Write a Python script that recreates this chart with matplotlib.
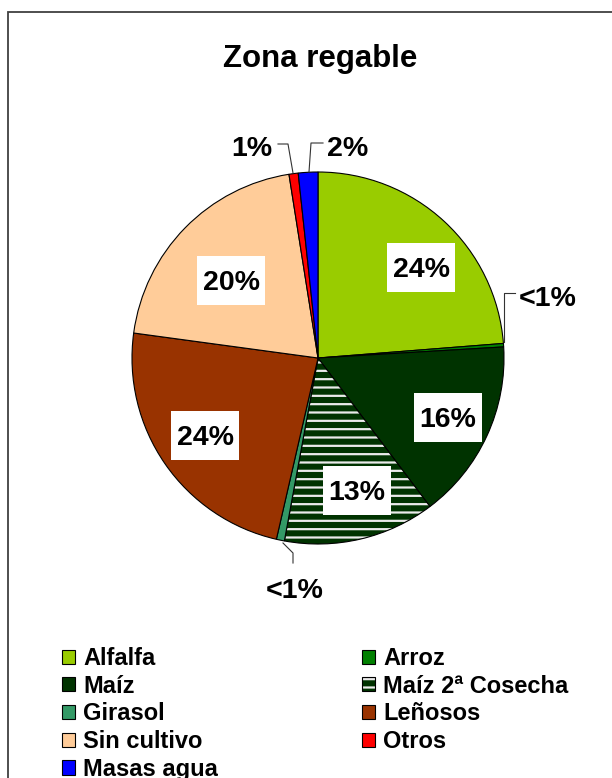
import matplotlib
matplotlib.use('Agg')
import matplotlib.pyplot as plt
from matplotlib.patches import Rectangle

# data
categories = ['Alfalfa', 'Arroz', 'Maíz', 'Maíz 2ª Cosecha', 'Girasol',
              'Leñosos', 'Sin cultivo', 'Otros', 'Masas agua']
shares = [23.8, 0.3, 15.7, 13.2, 0.7, 23.6, 20.4, 0.8, 1.7]
pct_labels = ['24%', '<1%', '16%', '13%', '<1%', '24%', '20%', '1%', '2%']
colors = ['#99CC00', '#008000', '#003300', '#003300', '#339966',
          '#993300', '#FFCC99', '#FF0000', '#0000FF']

W, H = 612, 778
plt.rcParams['font.family'] = ['Liberation Sans', 'DejaVu Sans']
plt.rcParams['hatch.linewidth'] = 1.6

fig = plt.figure(figsize=(W / 100, H / 100), dpi=100)
ax = fig.add_axes([0, 0, 1, 1])

def px(x, y):
    # picture pixels -> data coords (y up)
    return x, H - y

cx, cy = px(318, 358)
wedges, _ = ax.pie(shares, colors=colors, startangle=90, counterclock=False,
                   center=(cx, cy), radius=186,
                   wedgeprops=dict(edgecolor='black', linewidth=0.8))
# second maize crop: dark green with white horizontal stripes
wedges[3].set_hatch('--')
wedges[3]._hatch_color = (0.92, 0.92, 0.92, 1.0)

ax.set_xlim(0, W)
ax.set_ylim(0, H)
ax.set_aspect('equal')
ax.axis('off')

# labels inside slices, white boxes 68x49 px
inside = {0: (421, 267), 2: (448, 417), 3: (357, 490), 5: (205, 435), 6: (231, 280)}
for i, (x, y) in inside.items():
    bx, by = px(x - 34, y + 24.5)
    ax.add_patch(Rectangle((bx, by), 68, 49, fc='white', ec='none', zorder=3))
    ax.text(*px(x, y + 9.5), pct_labels[i], ha='center', va='baseline',
            fontsize=20.5, fontweight='bold', zorder=4)

# small slices, labels outside with leader lines
outside = {
    1: ((548, 296), 'center', [(504, 342), (504, 293), (515, 293)]),
    4: ((295, 588), 'center', [(283, 543), (293, 553), (293, 563)]),
    7: ((272, 146), 'right', [(293, 173), (288, 144), (278, 144)]),
    8: ((327, 146), 'left', [(309, 172), (311, 143), (323, 143)]),
}
for i, (pos, ha, line) in outside.items():
    xs = [px(*p)[0] for p in line]
    ys = [px(*p)[1] for p in line]
    ax.plot(xs, ys, color='#333333', lw=0.8)
    x, y = pos
    ax.text(*px(x, y + 9.5), pct_labels[i], ha=ha, va='baseline',
            fontsize=20.5, fontweight='bold')

ax.text(*px(320, 67), 'Zona regable', ha='center', va='baseline',
        fontsize=22.5, fontweight='bold')

# legend filled row by row like the original
order = [0, 2, 4, 6, 8, 1, 3, 5, 7]
fig.legend([wedges[i] for i in order], [categories[i] for i in order],
           loc='upper left', bbox_to_anchor=(62 / W, 1 - 647 / H), ncol=2,
           frameon=False, prop={'weight': 'bold', 'size': 17},
           handlelength=0.55, handleheight=0.55, handletextpad=0.34,
           labelspacing=0.2, columnspacing=6.1, borderpad=0, borderaxespad=0)

# chart area frame (right and bottom fall outside the picture)
fig.patches.append(Rectangle((8 / W, -0.1), 1.2, 1.1 - 12 / H, fill=False,
                             edgecolor='#404040', lw=1.3,
                             transform=fig.transFigure, figure=fig))

fig.savefig('out.png', dpi=100)
